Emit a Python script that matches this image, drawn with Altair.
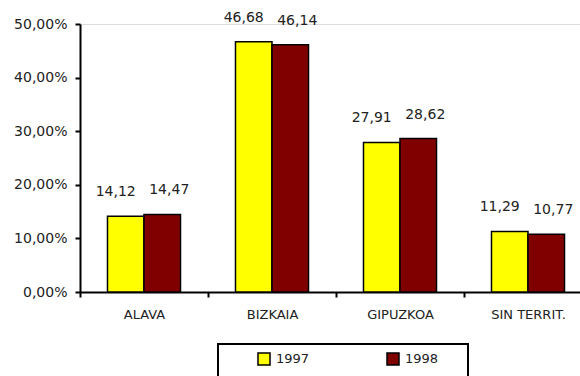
import altair as alt
import pandas as pd

regions = ["ALAVA", "BIZKAIA", "GIPUZKOA", "SIN TERRIT."]
years = ["1997", "1998"]
v1997 = [14.12, 46.68, 27.91, 11.29]
v1998 = [14.47, 46.14, 28.62, 10.77]
colors = ["#FFFF00", "#800000"]
y_ticks = [0, 10, 20, 30, 40, 50]

rows = []
for r, a, b in zip(regions, v1997, v1998):
    rows.append({"region": r, "year": years[0], "value": a})
    rows.append({"region": r, "year": years[1], "value": b})
df = pd.DataFrame(rows)
df["label"] = df["value"].map(lambda v: f"{v:.2f}".replace(".", ","))

FONT = "DejaVu Sans"
TXT = "#222222"
W, H = 500, 268

x_enc = alt.X(
    "region:N", sort=regions,
    scale=alt.Scale(range=[0, 512], paddingInner=0, paddingOuter=0),
    axis=alt.Axis(title=None, labelAngle=0, tickBand="extent", tickSize=5,
                  tickWidth=2, tickColor="black", domainColor="black",
                  domainWidth=2, labelFont=FONT, labelFontSize=13,
                  labelColor=TXT, labelPadding=11, grid=False),
)
xoff_enc = alt.XOffset("year:N", sort=years,
                       scale=alt.Scale(paddingOuter=0.753, paddingInner=0))
y_enc = alt.Y(
    "value:Q",
    scale=alt.Scale(domain=[0, 50], nice=False),
    axis=alt.Axis(title=None, values=y_ticks, grid=False, tickSize=5,
                  tickWidth=2, tickColor="black", domainColor="black",
                  domainWidth=2, labelFont=FONT, labelFontSize=14,
                  labelColor=TXT, labelPadding=8,
                  labelExpr="replace(format(datum.value, '.2f'), '.', ',') + '%'"),
)

base = alt.Chart(df)

bars = base.mark_bar(stroke="black", strokeWidth=1.5).encode(
    x=x_enc, xOffset=xoff_enc, y=y_enc,
    color=alt.Color(
        "year:N", sort=years,
        scale=alt.Scale(domain=years, range=colors),
        legend=alt.Legend(title=None, orient="none", legendX=177, legendY=328,
                          direction="horizontal", columns=2, columnPadding=74,
                          symbolType="square", symbolSize=144,
                          symbolStrokeColor="black", symbolStrokeWidth=1.5,
                          labelFont=FONT, labelFontSize=13, labelColor=TXT,
                          labelOffset=5, padding=0),
    ),
)

lab1 = base.transform_filter(alt.datum.year == years[0]).mark_text(
    dy=-24, dx=-10, font=FONT, fontSize=14, color=TXT
).encode(x=x_enc, xOffset=xoff_enc, y=y_enc, text="label:N")

lab2 = base.transform_filter(alt.datum.year == years[1]).mark_text(
    dy=-24, dx=7, font=FONT, fontSize=14, color=TXT
).encode(x=x_enc, xOffset=xoff_enc, y=y_enc, text="label:N")

box = alt.Chart(pd.DataFrame({"k": [0]})).mark_rect(
    fillOpacity=0, stroke="black", strokeWidth=2
).encode(x=alt.value(138), x2=alt.value(388), y=alt.value(320), y2=alt.value(370))

chart = alt.layer(bars, lab1, lab2, box).properties(
    width=W, height=H,
    autosize=alt.AutoSizeParams(type="none"),
    padding={"left": 80, "top": 24, "right": 0, "bottom": 84},
).configure_view(stroke=None).configure(background="white")

chart.save("out.html", embed_options={"renderer": "svg", "actions": False})
